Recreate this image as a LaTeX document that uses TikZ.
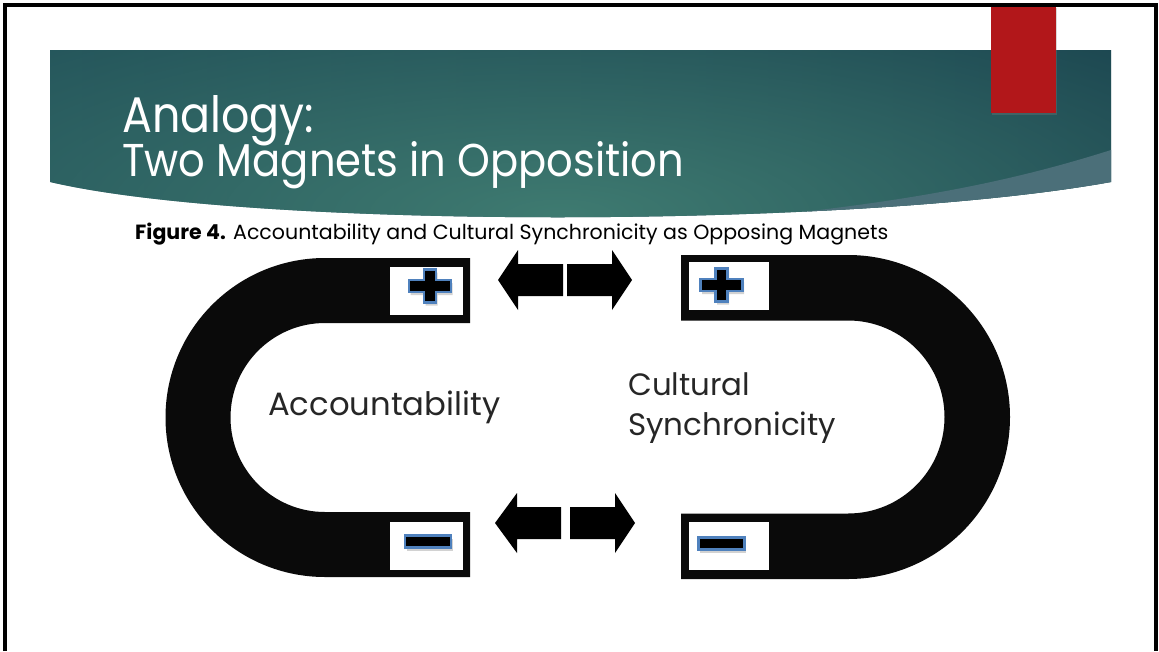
\documentclass[tikz,border=0pt]{standalone}
\usepackage{fontspec}
\setmainfont{Poppins}
\usetikzlibrary{shadows, fadings}

\definecolor{bannerleft}{HTML}{1D4B55}
\definecolor{bannerright}{HTML}{143A49}
\definecolor{bannerglow}{HTML}{3F7B71}
\definecolor{bannerwedge}{HTML}{4B6F79}
\definecolor{tabred}{HTML}{B2171A}
\definecolor{signblue}{HTML}{4F81BD}

\tikzfading[name=glowfade, inner color=transparent!0, outer color=transparent!100]

\begin{document}
\begin{tikzpicture}[
        x=1pt, y=-1pt,
        magnet/.style={fill=black!96},
        pole/.style={rectangle, fill=white, inner sep=0pt, minimum height=48pt},
        sign/.style={fill=black, draw=signblue, line width=2.6pt,
            drop shadow={shadow xshift=1.5pt, shadow yshift=-3pt, opacity=0.35}},
        blockarrow/.style={fill=black},
        slidetitle/.style={text=white, anchor=base west, inner sep=0pt},
        magnetname/.style={anchor=base west, inner sep=0pt, text=black!85},
        plussign/.pic={\path[sign] (-21,-6) -- (-6,-6) -- (-6,-16.5) -- (6,-16.5) -- (6,-6) -- (21,-6)
            -- (21,6) -- (6,6) -- (6,16.5) -- (-6,16.5) -- (-6,6) -- (-21,6) -- cycle;},
        minussign/.pic={\path[sign] (-23,-6) rectangle (23,6);}
    ]
        \useasboundingbox (0,0) rectangle (1159,651);

        % Banner
        \begin{scope}
            \clip (50,50) -- (1111,50) -- (1111,182) .. controls (850,229) and (250,229) .. (50,182) -- cycle;
            \shade[left color=bannerleft, right color=bannerright] (50,50) rectangle (1111,230);
            \fill[bannerglow, path fading=glowfade] (-440,-85) rectangle (1560,515);
            \fill[bannerwedge] (1111,150) .. controls (1010,182) and (900,205) .. (700,222) -- (1111,240) -- cycle;
        \end{scope}
        \fill[tabred, drop shadow={shadow xshift=1pt, shadow yshift=-2pt, opacity=0.3}] (991,6) rectangle (1056,113);

        % Frame
        \draw[line width=3.4pt] (5,651) -- (5,5) -- (1156,5) -- (1156,651);

        % Titles
        \node[slidetitle] (titleA) at (122,132) {\resizebox{192pt}{37pt}{Analogy:}};
        \node[slidetitle] (titleB) at (122,176) {\resizebox{562pt}{35pt}{Two Magnets in Opposition}};
        \node[anchor=base west, inner sep=0pt] (caption) at (135,239)
            {\resizebox{753pt}{!}{\textbf{Figure 4.} Accountability and Cultural Synchronicity as Opposing Magnets}};

        % Magnets
        \fill[magnet] (470,258) -- (325,258) arc[start angle=270, end angle=90, radius=159.5] -- (470,577)
            -- (470,512) -- (325,512) arc[start angle=90, end angle=270, radius=94.5] -- (325,323) -- (470,323) -- cycle;
        \fill[magnet] (681,255) -- (848,255) arc[start angle=-90, end angle=90, radius=162] -- (681,579)
            -- (681,513.5) -- (848,513.5) arc[start angle=90, end angle=-90, radius=96.5] -- (848,320.5) -- (681,320.5) -- cycle;

        % Poles
        \node[pole, minimum width=73pt] (lplus) at (426.5,291) {};
        \node[pole, minimum width=73pt] (lminus) at (426.5,546) {};
        \node[pole, minimum width=80pt] (rplus) at (729,286) {};
        \node[pole, minimum width=80pt] (rminus) at (729,546) {};
        \pic at (430,286) {plussign};
        \pic at (428,541.5) {minussign};
        \pic at (721.5,285) {plussign};
        \pic at (721.5,543.5) {minussign};

        % Labels
        \node[magnetname] (acc) at (268,415) {\resizebox{232pt}{!}{Accountability}};
        \node[magnetname] (cult) at (628,395) {\resizebox{122pt}{!}{Cultural}};
        \node[magnetname] (sync) at (628,435) {\resizebox{208pt}{!}{Synchronicity}};

        % Arrows
        \fill[blockarrow] (563,264) -- (518,264) -- (518,250) -- (498,280) -- (518,310) -- (518,296) -- (563,296) -- cycle;
        \fill[blockarrow] (567,264) -- (612,264) -- (612,250) -- (632,280) -- (612,310) -- (612,296) -- (567,296) -- cycle;
        \fill[blockarrow] (561,507) -- (517,507) -- (517,493) -- (495,523) -- (517,553) -- (517,539) -- (561,539) -- cycle;
        \fill[blockarrow] (570,507) -- (615,507) -- (615,493) -- (635,523) -- (615,553) -- (615,539) -- (570,539) -- cycle;
    \end{tikzpicture}
\end{document}
